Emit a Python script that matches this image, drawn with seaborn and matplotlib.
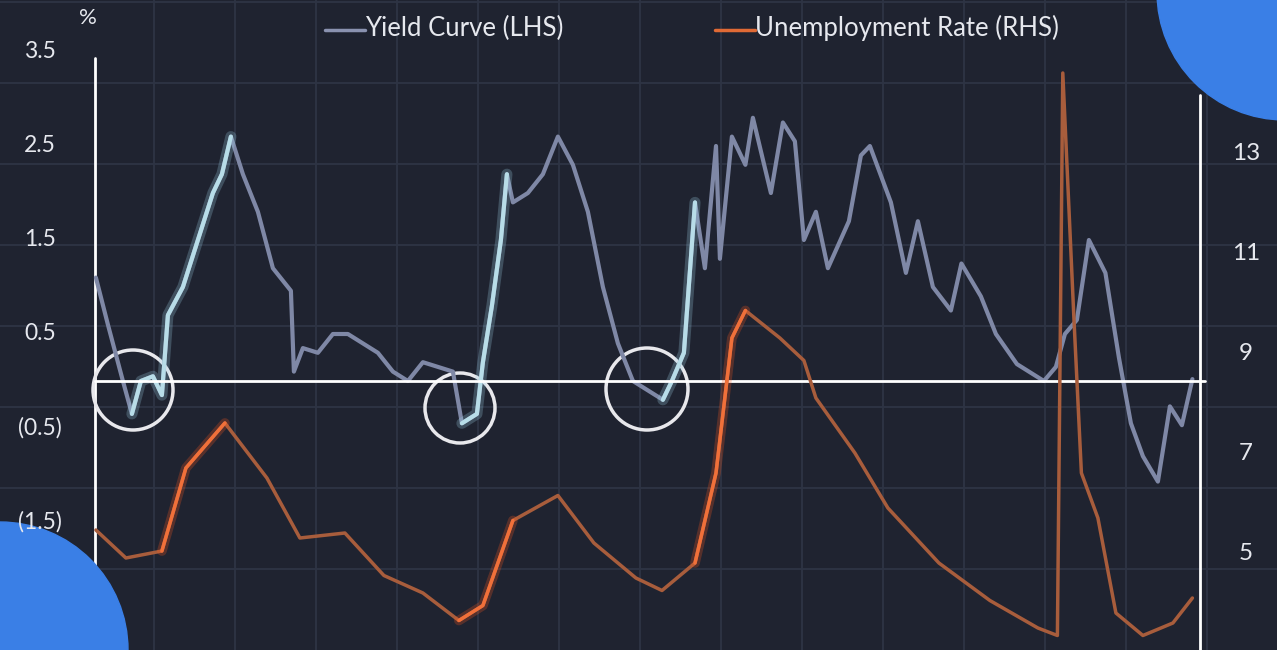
import numpy as np
import pandas as pd
import seaborn as sns
import matplotlib.pyplot as plt
from matplotlib.patches import Circle

# 10y-2y yield curve, %
yc_years = [1988.1, 1988.5, 1989.0, 1989.3, 1989.6, 1990.0, 1990.3, 1990.5, 1991.0, 1991.5,
            1992.0, 1992.3, 1992.6, 1993.0, 1993.5, 1994.0, 1994.6, 1994.7, 1995.0, 1995.5,
            1996.0, 1996.5, 1997.0, 1997.5, 1998.0, 1998.5, 1999.0, 1999.5, 2000.0, 2000.3,
            2000.8, 2001.0, 2001.3, 2001.6, 2001.8, 2002.0, 2002.5, 2003.0, 2003.5, 2004.0,
            2004.5, 2005.0, 2005.5, 2006.0, 2006.5, 2007.0, 2007.3, 2007.7, 2008.07, 2008.4,
            2008.77, 2008.9, 2009.3, 2009.75, 2010.0, 2010.6, 2011.0, 2011.4, 2011.7, 2012.1,
            2012.5, 2013.2, 2013.6, 2013.9, 2014.6, 2015.1, 2015.5, 2016.0, 2016.6, 2016.95,
            2017.6, 2018.1, 2018.8, 2019.7, 2020.1, 2020.4, 2020.8, 2021.2, 2021.75, 2022.2,
            2022.6, 2023.0, 2023.5, 2023.9, 2024.3, 2024.65]
yc_values = [1.1, 0.6, 0.0, -0.35, 0.0, 0.05, -0.15, 0.7, 1.0, 1.5,
             2.0, 2.2, 2.6, 2.2, 1.8, 1.2, 0.96, 0.1, 0.35, 0.3,
             0.5, 0.5, 0.4, 0.3, 0.1, 0.0, 0.2, 0.15, 0.1, -0.45,
             -0.35, 0.2, 0.8, 1.5, 2.2, 1.9, 2.0, 2.2, 2.6, 2.3,
             1.8, 1.0, 0.4, 0.0, -0.1, -0.2, 0.0, 0.3, 1.9, 1.2,
             2.5, 1.3, 2.6, 2.3, 2.8, 2.0, 2.75, 2.55, 1.5, 1.8,
             1.2, 1.7, 2.4, 2.5, 1.9, 1.15, 1.7, 1.0, 0.75, 1.25,
             0.9, 0.5, 0.18, 0.0, 0.15, 0.5, 0.65, 1.5, 1.15, 0.25,
             -0.45, -0.8, -1.07, -0.27, -0.47, 0.02]

# unemployment rate, %
ur_years = [1988.1, 1989.1, 1990.3, 1991.1, 1992.4, 1993.8, 1994.9, 1996.4, 1997.7, 1999.0,
            2000.2, 2001.0, 2002.0, 2003.5, 2004.7, 2006.1, 2006.97, 2008.07, 2008.77, 2009.3,
            2009.75, 2010.9, 2011.7, 2012.1, 2013.4, 2014.5, 2016.2, 2017.9, 2019.5, 2020.15,
            2020.33, 2020.7, 2020.95, 2021.5, 2022.1, 2023.0, 2024.0, 2024.65]
ur_values = [5.46, 4.9, 5.04, 6.7, 7.6, 6.5, 5.3, 5.4, 4.55, 4.2,
             3.65, 3.95, 5.65, 6.15, 5.2, 4.5, 4.25, 4.8, 6.6, 9.3,
             9.85, 9.3, 8.85, 8.1, 7.0, 5.9, 4.8, 4.05, 3.5, 3.35,
             14.6, 9.7, 6.6, 5.7, 3.8, 3.35, 3.6, 4.1]

left_ticks = [3.5, 2.5, 1.5, 0.5, -0.5, -1.5]
left_labels = ["3.5", "2.5", "1.5", "0.5", "(0.5)", "(1.5)"]
right_ticks = [13, 11, 9, 7, 5]

# highlighted stretches: (start, end) years
yc_glow = [(1989.3, 1992.6), (2000.3, 2001.8), (2007.0, 2008.07)]
ur_glow = [(1990.3, 1992.4), (2000.2, 2002.0), (2008.07, 2009.75)]

yc = pd.DataFrame({"year": yc_years, "value": yc_values})
ur = pd.DataFrame({"year": ur_years, "value": ur_values})

BG = "#1f2330"
GRID = "#2e3444"
TXT = "#e6e8ee"
W, H = 1277, 650

sns.set_style("dark")
plt.rcParams['font.family'] = ['Lato', 'DejaVu Sans']

fig = plt.figure(figsize=(W / 100, H / 100), dpi=100, facecolor=BG)

# background grid, in pixel units
bg = fig.add_axes([0, 0, 1, 1])
bg.set_facecolor(BG)
bg.set_xlim(0, W)
bg.set_ylim(H, 0)
for gx in range(154, W, 81):
    bg.axvline(gx, color=GRID, lw=1.3)
for gy in range(2, H, 81):
    bg.axhline(gy, color=GRID, lw=1.3)
bg.axis("off")

ax = fig.add_axes([0, 0, 1, 1])
ax.patch.set_alpha(0)
ax.set_xlim(1988.07 - 95 / 30, 1988.07 + (W - 95) / 30)
ax.set_ylim((381 - H) / 94, 381 / 94)
ax2 = ax.twinx()
ax2.set_ylim(13 - (H - 153) / 50, 13 + 153 / 50)

sns.lineplot(data=yc, x="year", y="value", ax=ax, color="#7f88a6", lw=3, zorder=3)
for a, b in yc_glow:
    seg = yc[(yc.year >= a) & (yc.year <= b)]
    sns.lineplot(data=seg, x="year", y="value", ax=ax, color="#9fd4ea", lw=8, alpha=0.25, zorder=4)
    sns.lineplot(data=seg, x="year", y="value", ax=ax, color="#b8dde8", lw=3, zorder=5)

sns.lineplot(data=ur, x="year", y="value", ax=ax2, color="#a85d3c", lw=2.5, zorder=3)
for a, b in ur_glow:
    seg = ur[(ur.year >= a) & (ur.year <= b)]
    sns.lineplot(data=seg, x="year", y="value", ax=ax2, color="#ff5a20", lw=7, alpha=0.25, zorder=4)
    sns.lineplot(data=seg, x="year", y="value", ax=ax2, color="#f0703a", lw=2.5, zorder=5)

for a_ in (ax, ax2):
    a_.axis("off")

# frame lines
bg.plot([95, 95], [58, H], color="white", lw=2, zorder=6)
bg.plot([1200, 1200], [95, H], color="white", lw=2, zorder=6)
ax.axhline(0, xmin=95 / W, xmax=1205 / W, color="white", lw=2, zorder=6)

# tick labels
for v, lab in zip(left_ticks, left_labels):
    ax.text(40 / W, v, lab, transform=ax.get_yaxis_transform(), color=TXT,
            fontsize=16.5, ha="center", va="center")
for v in right_ticks:
    ax2.text(1246 / W, v, str(v), transform=ax2.get_yaxis_transform(), color=TXT,
             fontsize=17.5, ha="center", va="center")
fig.text(88 / W, 1 - 18 / H, "%", color=TXT, fontsize=16, ha="center", va="center")

# legend
fig.add_artist(plt.Line2D([325 / W, 365 / W], [1 - 30 / H] * 2, color="#8a92b0", lw=2.5))
fig.text(365 / W, 1 - 28 / H, "Yield Curve (LHS)", color=TXT, fontsize=18.5, va="center")
fig.add_artist(plt.Line2D([715 / W, 755 / W], [1 - 30 / H] * 2, color="#e06a35", lw=2.5))
fig.text(755 / W, 1 - 28 / H, "Unemployment Rate (RHS)", color=TXT, fontsize=18.5, va="center")

# inversion circles
for cx, cy, r in [(133, 390, 40), (460, 408, 35), (647, 389, 41)]:
    bg.add_patch(Circle((cx, cy), r, fill=False, ec="#e8e8ec", lw=2.5, zorder=7))

# decorative blobs
bg.add_patch(Circle((1285, -8), 128, color="#3a7fe6", zorder=10))
bg.add_patch(Circle((0, H), 128, color="#3a7fe6", zorder=10))

fig.savefig("out.png", dpi=100, facecolor=BG)
